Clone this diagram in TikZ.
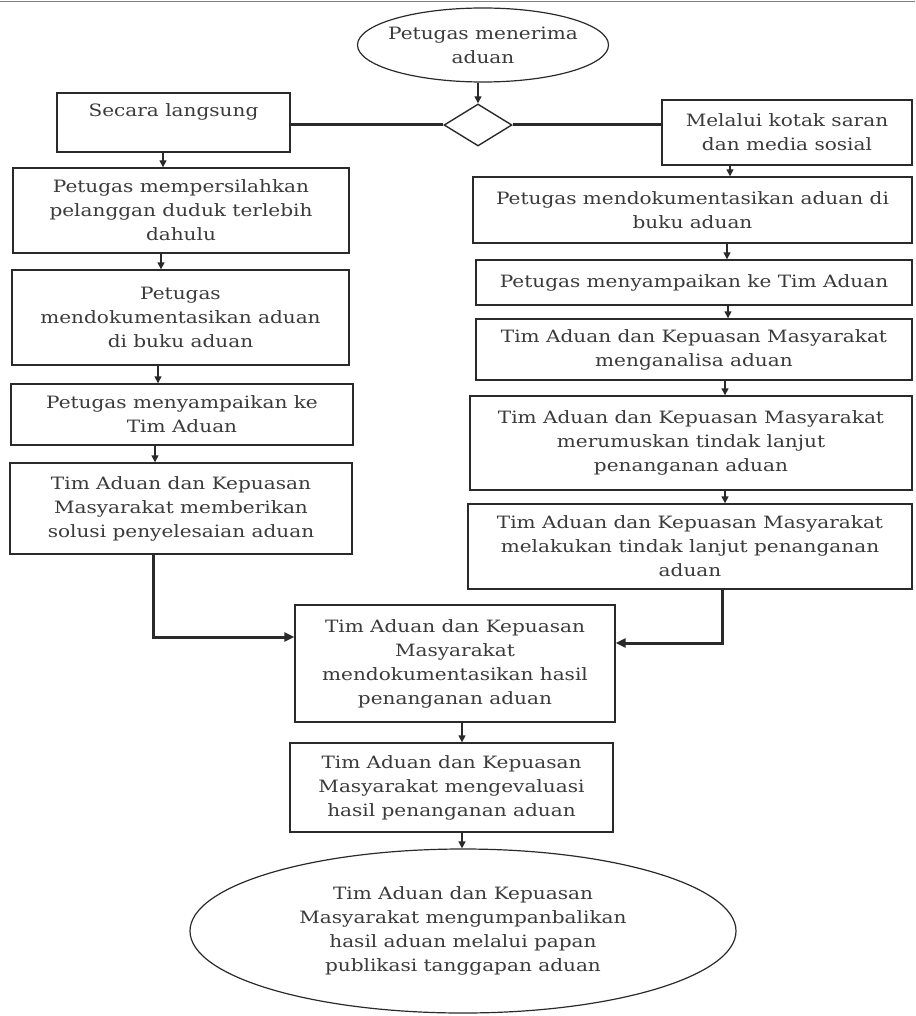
\documentclass[tikz,border=0pt]{standalone}
\usepackage{fontspec}
\setmainfont{DejaVu Serif}[FakeStretch=1.18]
\usetikzlibrary{shapes.geometric,arrows.meta}
\definecolor{linec}{HTML}{2A2A2A}
\definecolor{txtc}{HTML}{3A3A3A}
\newcommand\fsz{\fontsize{17}{24}\selectfont}
\newcommand\bx[6]{\node[box, minimum width={(#4-#2)*1pt}, minimum height={(#5-#3)*1pt}] (#1) at ({(#2+#4)/2},{(#3+#5)/2}) {#6};}
\begin{document}
\begin{tikzpicture}[x=1pt,y=-1pt,
  box/.style={draw=linec, line width=1.4pt, align=center, inner sep=0pt, text=txtc, font=\fsz},
  ell/.style={ellipse, draw=linec, line width=1.2pt, align=center, inner sep=0pt, text=txtc, font=\fsz},
  dia/.style={diamond, draw=linec, line width=1.4pt, inner sep=0pt},
  arr/.style={-{Triangle[length=7pt,width=7pt]}, draw=linec, line width=1.4pt},
  thk/.style={draw=linec, line width=3pt},
  thkarr/.style={-{Triangle[length=10pt,width=9pt]}, draw=linec, line width=3pt}]
\useasboundingbox (0,0) rectangle (915,1016);
\draw[gray, line width=1.2pt] (0,1.5) -- (915,1.5);
% start
\node[ell, inner xsep=-12pt, inner ysep=0pt, minimum width=251pt, minimum height=74pt] (start) at (483,45) {Petugas menerima\\aduan};
\node[dia, minimum width=68pt, minimum height=42pt] (dec) at (478,125) {};
% left column
\bx{b1}{57}{93}{290}{152}{Secara langsung\\\mbox{}}
\bx{r1}{662}{100}{912}{165}{Melalui kotak saran\\dan media sosial}
\bx{b2}{13}{168}{349}{253}{Petugas mempersilahkan\\pelanggan duduk terlebih\\dahulu}
\bx{b3}{12}{270}{349}{365}{Petugas\\mendokumentasikan aduan\\di buku aduan}
\bx{b4}{11}{384}{353}{445}{Petugas menyampaikan ke\\Tim Aduan}
\bx{b5}{10}{463}{352}{554}{Tim Aduan dan Kepuasan\\Masyarakat memberikan\\solusi penyelesaian aduan}
% right column
\bx{r2}{473}{177}{912}{243}{Petugas mendokumentasikan aduan di\\buku aduan}
\bx{r3}{476}{260}{912}{305}{Petugas menyampaikan ke Tim Aduan}
\bx{r4}{476}{319}{912}{380}{Tim Aduan dan Kepuasan Masyarakat\\menganalisa aduan}
\bx{r5}{470}{396}{912}{490}{Tim Aduan dan Kepuasan Masyarakat\\merumuskan tindak lanjut\\penanganan aduan}
\bx{r6}{468}{504}{912}{589}{Tim Aduan dan Kepuasan Masyarakat\\melakukan tindak lanjut penanganan\\aduan}
% center
\bx{c1}{295}{605}{615}{722}{Tim Aduan dan Kepuasan\\Masyarakat\\mendokumentasikan hasil\\penanganan aduan}
\bx{c2}{290}{743}{613}{832}{Tim Aduan dan Kepuasan\\Masyarakat mengevaluasi\\hasil penanganan aduan}
\node[ell, minimum width=546pt, minimum height=164pt] (end) at (463,931) {Tim Aduan dan Kepuasan\\Masyarakat mengumpanbalikan\\hasil aduan melalui papan\\publikasi tanggapan aduan};
% helper coordinates
\coordinate (xa) at (163,0);
\coordinate (xb) at (161,0);
\coordinate (xc) at (158,0);
\coordinate (xd) at (155,0);
\coordinate (xe) at (153,0);
\coordinate (xr1) at (730,0);
\coordinate (xr2) at (727,0);
\coordinate (xr3) at (728,0);
\coordinate (xr4) at (725,0);
\coordinate (xr5) at (722,0);
\coordinate (xc1) at (462,0);
\coordinate (yl) at (0,637);
\coordinate (yr) at (0,643);
% connectors
\draw[arr] (start.south -| dec.north) -- (dec.north);
\draw[thk] (b1.east |- dec.west) -- (dec.west);
\draw[thk] (dec.east) -- (r1.west |- dec.east);
\draw[arr] (b1.south -| xa) -- (b2.north -| xa);
\draw[arr] (b2.south -| xb) -- (b3.north -| xb);
\draw[arr] (b3.south -| xc) -- (b4.north -| xc);
\draw[arr] (b4.south -| xd) -- (b5.north -| xd);
\draw[arr] (r1.south -| xr1) -- (r2.north -| xr1);
\draw[arr] (r2.south -| xr2) -- (r3.north -| xr2);
\draw[arr] (r3.south -| xr3) -- (r4.north -| xr3);
\draw[arr] (r4.south -| xr4) -- (r5.north -| xr4);
\draw[arr] (r5.south -| xr4) -- (r6.north -| xr4);
\draw[thkarr] (b5.south -| xe) |- (c1.west |- yl);
\draw[thkarr] (r6.south -| xr5) |- (c1.east |- yr);
\draw[arr] (c1.south -| xc1) -- (c2.north -| xc1);
\draw[arr] (c2.south -| xc1) -- (end.north -| xc1);
\end{tikzpicture}
\end{document}
